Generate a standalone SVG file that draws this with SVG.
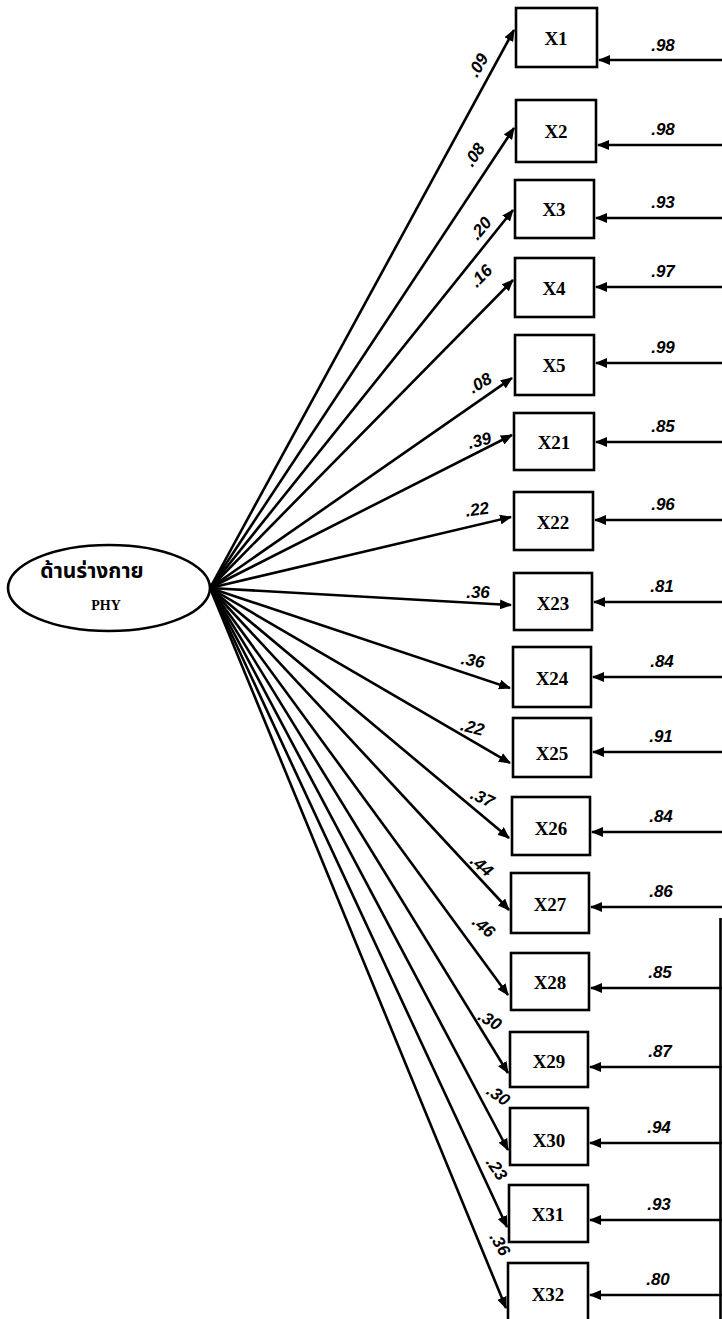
<svg xmlns="http://www.w3.org/2000/svg" width="722" height="1319" viewBox="0 0 722 1319">
<defs>
<marker id="ah" markerUnits="userSpaceOnUse" markerWidth="12" markerHeight="10" refX="11" refY="5" orient="auto">
<path d="M0,0 L12,5 L0,10 Z" fill="#000"/>
</marker>
<style>
.box{fill:#fff;stroke:#000;stroke-width:2.6}
.bl{font-family:"Liberation Serif",serif;font-weight:bold;font-size:19px;text-anchor:middle;fill:#000}
.ln{stroke:#000;stroke-width:2.6;fill:none;marker-end:url(#ah)}
.num{font-family:"Liberation Sans",sans-serif;font-weight:bold;font-style:italic;font-size:17px;text-anchor:middle;fill:#000}
</style>
</defs>
<rect width="722" height="1319" fill="#fff"/>
<g id="connectors">
<line class="ln" x1="210" y1="588" x2="514" y2="30"/>
<line class="ln" x1="210" y1="588" x2="514" y2="128"/>
<line class="ln" x1="210" y1="588" x2="513" y2="210"/>
<line class="ln" x1="210" y1="588" x2="513" y2="280"/>
<line class="ln" x1="210" y1="588" x2="512" y2="378"/>
<line class="ln" x1="210" y1="588" x2="512" y2="435"/>
<line class="ln" x1="210" y1="588" x2="511" y2="517"/>
<line class="ln" x1="210" y1="588" x2="511" y2="605"/>
<line class="ln" x1="210" y1="588" x2="510" y2="688"/>
<line class="ln" x1="210" y1="588" x2="510" y2="763"/>
<line class="ln" x1="210" y1="588" x2="509" y2="838"/>
<line class="ln" x1="210" y1="588" x2="509" y2="910"/>
<line class="ln" x1="210" y1="588" x2="508" y2="995"/>
<line class="ln" x1="210" y1="588" x2="508" y2="1073"/>
<line class="ln" x1="210" y1="588" x2="508" y2="1150"/>
<line class="ln" x1="210" y1="588" x2="507" y2="1227"/>
<line class="ln" x1="210" y1="588" x2="506" y2="1308"/>
<line class="ln" x1="722" y1="60" x2="599" y2="60"/>
<line class="ln" x1="722" y1="145" x2="598" y2="145"/>
<line class="ln" x1="722" y1="218" x2="596" y2="218"/>
<line class="ln" x1="722" y1="287" x2="596" y2="287"/>
<line class="ln" x1="722" y1="363" x2="596" y2="363"/>
<line class="ln" x1="722" y1="442" x2="596" y2="442"/>
<line class="ln" x1="722" y1="520" x2="595" y2="520"/>
<line class="ln" x1="722" y1="602" x2="594" y2="602"/>
<line class="ln" x1="722" y1="677" x2="593" y2="677"/>
<line class="ln" x1="722" y1="752" x2="593" y2="752"/>
<line class="ln" x1="722" y1="832" x2="592" y2="832"/>
<line class="ln" x1="722" y1="907" x2="591" y2="907"/>
<line class="ln" x1="722" y1="988" x2="591" y2="988"/>
<line class="ln" x1="722" y1="1067" x2="590" y2="1067"/>
<line class="ln" x1="722" y1="1143" x2="590" y2="1143"/>
<line class="ln" x1="722" y1="1220" x2="590" y2="1220"/>
<line class="ln" x1="722" y1="1295" x2="590" y2="1295"/>
<line x1="720.5" y1="918" x2="720.5" y2="1319" stroke="#000" stroke-width="2.6"/>
</g>
<g id="labels">
<text class="num" transform="translate(483,68) rotate(-60)">.09</text>
<text class="num" transform="translate(479,158) rotate(-55)">.08</text>
<text class="num" transform="translate(485,232) rotate(-50)">.20</text>
<text class="num" transform="translate(485,280) rotate(-45)">.16</text>
<text class="num" transform="translate(483,388) rotate(-30)">.08</text>
<text class="num" transform="translate(481,446) rotate(-15)">.39</text>
<text class="num" transform="translate(478,515) rotate(-8)">.22</text>
<text class="num" transform="translate(478,598)">.36</text>
<text class="num" transform="translate(472,666) rotate(10)">.36</text>
<text class="num" transform="translate(471,733) rotate(15)">.22</text>
<text class="num" transform="translate(480,803) rotate(25)">.37</text>
<text class="num" transform="translate(478,870) rotate(40)">.44</text>
<text class="num" transform="translate(480,931) rotate(40)">.46</text>
<text class="num" transform="translate(487,1025) rotate(30)">.30</text>
<text class="num" transform="translate(495,1100) rotate(35)">.30</text>
<text class="num" transform="translate(492,1172) rotate(55)">.23</text>
<text class="num" transform="translate(495,1247) rotate(60)">.36</text>
<text class="num" x="663" y="51">.98</text>
<text class="num" x="663" y="135">.98</text>
<text class="num" x="663" y="208">.93</text>
<text class="num" x="663" y="277">.97</text>
<text class="num" x="663" y="353">.99</text>
<text class="num" x="663" y="432">.85</text>
<text class="num" x="663" y="510">.96</text>
<text class="num" x="662" y="592">.81</text>
<text class="num" x="662" y="667">.84</text>
<text class="num" x="661" y="742">.91</text>
<text class="num" x="661" y="822">.84</text>
<text class="num" x="661" y="897">.86</text>
<text class="num" x="660" y="978">.85</text>
<text class="num" x="660" y="1057">.87</text>
<text class="num" x="659" y="1133">.94</text>
<text class="num" x="659" y="1210">.93</text>
<text class="num" x="658" y="1285">.80</text>
</g>
<g id="PHY">
<ellipse cx="109" cy="588" rx="101" ry="43" fill="#fff" stroke="#000" stroke-width="2.6"/>
<text x="92" y="578" font-family="'Noto Sans Thai','Noto Sans','DejaVu Sans',sans-serif" font-weight="bold" font-size="21" text-anchor="middle">ด้านร่างกาย</text>
<text x="106" y="610" font-family="'Liberation Serif',serif" font-weight="bold" font-size="14" text-anchor="middle">PHY</text>
</g>
<g id="X1"><rect class="box" x="516" y="8" width="81" height="59"/><text class="bl" x="556" y="45">X1</text></g>
<g id="X2"><rect class="box" x="516" y="100" width="80" height="62"/><text class="bl" x="556" y="138">X2</text></g>
<g id="X3"><rect class="box" x="515" y="180" width="79" height="58"/><text class="bl" x="554" y="216">X3</text></g>
<g id="X4"><rect class="box" x="515" y="258" width="79" height="59"/><text class="bl" x="554" y="295">X4</text></g>
<g id="X5"><rect class="box" x="515" y="335" width="79" height="60"/><text class="bl" x="554" y="372">X5</text></g>
<g id="X21"><rect class="box" x="514" y="413" width="80" height="57"/><text class="bl" x="554" y="449">X21</text></g>
<g id="X22"><rect class="box" x="514" y="492" width="79" height="58"/><text class="bl" x="553" y="529">X22</text></g>
<g id="X23"><rect class="box" x="514" y="573" width="78" height="57"/><text class="bl" x="553" y="610">X23</text></g>
<g id="X24"><rect class="box" x="513" y="647" width="78" height="60"/><text class="bl" x="552" y="685">X24</text></g>
<g id="X25"><rect class="box" x="513" y="718" width="78" height="59"/><text class="bl" x="552" y="760">X25</text></g>
<g id="X26"><rect class="box" x="512" y="797" width="78" height="58"/><text class="bl" x="551" y="835">X26</text></g>
<g id="X27"><rect class="box" x="511" y="873" width="78" height="60"/><text class="bl" x="550" y="911">X27</text></g>
<g id="X28"><rect class="box" x="511" y="953" width="78" height="57"/><text class="bl" x="550" y="989">X28</text></g>
<g id="X29"><rect class="box" x="510" y="1032" width="78" height="55"/><text class="bl" x="549" y="1068">X29</text></g>
<g id="X30"><rect class="box" x="510" y="1108" width="78" height="57"/><text class="bl" x="549" y="1147">X30</text></g>
<g id="X31"><rect class="box" x="509" y="1185" width="79" height="57"/><text class="bl" x="548" y="1221">X31</text></g>
<g id="X32"><rect class="box" x="508" y="1263" width="80" height="60"/><text class="bl" x="548" y="1301">X32</text></g>
</svg>
